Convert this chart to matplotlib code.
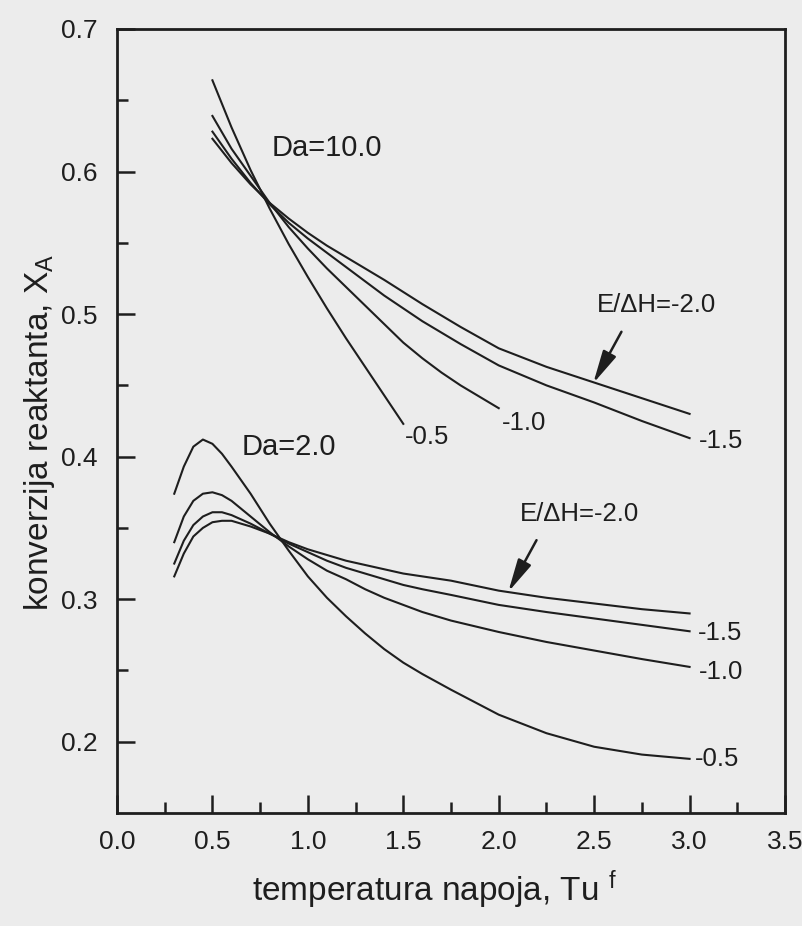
import matplotlib.pyplot as plt
import numpy as np

plt.rcParams['font.family'] = ['Liberation Sans', 'DejaVu Sans']
plt.rcParams['mathtext.fontset'] = 'custom'
plt.rcParams['mathtext.rm'] = 'Liberation Sans'

# Da = 10.0, one curve per E/dH
x10_05 = [0.5, 0.6, 0.7, 0.8, 0.9, 1.0, 1.1, 1.2, 1.3, 1.4, 1.5]
y10_05 = [0.664, 0.631, 0.601, 0.574, 0.549, 0.526, 0.504, 0.483, 0.463, 0.443, 0.423]
x10_10 = [0.5, 0.6, 0.7, 0.8, 0.9, 1.0, 1.1, 1.2, 1.3, 1.4, 1.5, 1.6, 1.7, 1.8, 1.9, 2.0]
y10_10 = [0.639, 0.616, 0.597, 0.578, 0.561, 0.546, 0.532, 0.519, 0.506, 0.493,
          0.480, 0.469, 0.459, 0.450, 0.442, 0.434]
x10_15 = [0.5, 0.6, 0.7, 0.8, 0.9, 1.0, 1.1, 1.2, 1.3, 1.4, 1.6, 1.8, 2.0, 2.25, 2.5, 2.75, 3.0]
y10_15 = [0.628, 0.609, 0.592, 0.577, 0.564, 0.553, 0.543, 0.533, 0.523, 0.513,
          0.495, 0.479, 0.464, 0.450, 0.438, 0.425, 0.413]
x10_20 = [0.5, 0.6, 0.7, 0.8, 0.9, 1.0, 1.1, 1.2, 1.4, 1.6, 1.8, 2.0, 2.25, 2.5, 2.75, 3.0]
y10_20 = [0.623, 0.606, 0.591, 0.578, 0.567, 0.557, 0.548, 0.540, 0.524, 0.507,
          0.491, 0.476, 0.463, 0.452, 0.441, 0.430]

# Da = 2.0, common x grid
x2 = [0.3, 0.35, 0.4, 0.45, 0.5, 0.55, 0.6, 0.7, 0.8, 0.9, 1.0, 1.1, 1.2, 1.3, 1.4,
      1.5, 1.6, 1.75, 2.0, 2.25, 2.5, 2.75, 3.0]
y2_05 = [0.374, 0.393, 0.407, 0.412, 0.409, 0.402, 0.393, 0.374, 0.353, 0.334, 0.316, 0.301,
         0.288, 0.276, 0.265, 0.2555, 0.2475, 0.2365, 0.219, 0.206, 0.1965, 0.191, 0.188]
y2_10 = [0.340, 0.358, 0.369, 0.374, 0.375, 0.373, 0.369, 0.358, 0.347, 0.337, 0.328, 0.320,
         0.314, 0.307, 0.301, 0.296, 0.291, 0.285, 0.277, 0.270, 0.264, 0.258, 0.2525]
y2_15 = [0.325, 0.341, 0.352, 0.358, 0.361, 0.361, 0.359, 0.353, 0.346, 0.339, 0.333, 0.327,
         0.322, 0.318, 0.314, 0.310, 0.307, 0.303, 0.296, 0.291, 0.2865, 0.282, 0.2775]
y2_20 = [0.316, 0.332, 0.344, 0.350, 0.354, 0.355, 0.355, 0.351, 0.346, 0.340, 0.335, 0.331,
         0.327, 0.324, 0.321, 0.318, 0.316, 0.313, 0.306, 0.301, 0.297, 0.293, 0.290]

ink = '#1e1e1e'
bg = '#ececec'

fig = plt.figure(figsize=(8.03, 9.26), dpi=100, facecolor=bg)
ax = fig.add_axes([0.1457, 0.122, 0.8319, 0.8467], facecolor=bg)

for xs, ys in [(x10_05, y10_05), (x10_10, y10_10), (x10_15, y10_15), (x10_20, y10_20)]:
    ax.plot(xs, ys, color=ink, lw=1.5)
for ys in [y2_05, y2_10, y2_15, y2_20]:
    ax.plot(x2, ys, color=ink, lw=1.5)

ax.set_xlim(0, 3.5)
ax.set_ylim(0.15, 0.7)
ax.set_xticks(np.arange(0, 3.51, 0.5))
ax.set_xticks(np.arange(0.25, 3.5, 0.5), minor=True)
ax.set_yticks(np.arange(0.2, 0.71, 0.1))
ax.set_yticks(np.arange(0.25, 0.7, 0.1), minor=True)
ax.xaxis.set_major_formatter(plt.FormatStrFormatter('%.1f'))
ax.yaxis.set_major_formatter(plt.FormatStrFormatter('%.1f'))

ax.tick_params(which='both', direction='in', top=False, right=False, width=1.8, colors=ink,
               labelsize=19)
ax.tick_params(axis='x', pad=12)
ax.tick_params(axis='y', pad=14)
ax.tick_params(which='major', length=13)
ax.tick_params(which='minor', length=8)
for s in ax.spines.values():
    s.set_linewidth(2.0)
    s.set_color(ink)

ax.set_xlabel(r'temperatura napoja, Tu $\mathregular{^f}$', fontsize=24, color=ink)
ax.set_ylabel(r'konverzija reaktanta, $\mathregular{X_A}$', fontsize=24, color=ink)
ax.xaxis.set_label_coords(0.476, -0.07)
ax.yaxis.set_label_coords(-0.09, 0.485)

# annotations
ax.text(0.81, 0.6165, 'Da=10.0', fontsize=21, color=ink, va='center')
ax.text(0.653, 0.407, 'Da=2.0', fontsize=21, color=ink, va='center')
ax.text(2.514, 0.5065, 'E/\u0394H=-2.0', fontsize=18.5, color=ink, va='center')
ax.text(2.111, 0.360, 'E/\u0394H=-2.0', fontsize=18.5, color=ink, va='center')
arrow = dict(arrowstyle='-|>,head_length=1.0,head_width=0.22', lw=1.8, color=ink,
             mutation_scale=20, shrinkA=0, shrinkB=0)
ax.annotate('', xy=(2.495, 0.4514), xytext=(2.643, 0.4876), arrowprops=arrow)
ax.annotate('', xy=(2.05, 0.3051), xytext=(2.198, 0.3414), arrowprops=arrow)

end_labels = [(1.51, 0.4137, '-0.5'), (2.015, 0.4233, '-1.0'), (3.05, 0.411, '-1.5'),
              (3.045, 0.276, '-1.5'), (3.05, 0.249, '-1.0'), (3.028, 0.188, '-0.5')]
for x, y, t in end_labels:
    ax.text(x, y, t, fontsize=18.5, color=ink, va='center')

fig.savefig('out.png', dpi=100, facecolor=bg)
